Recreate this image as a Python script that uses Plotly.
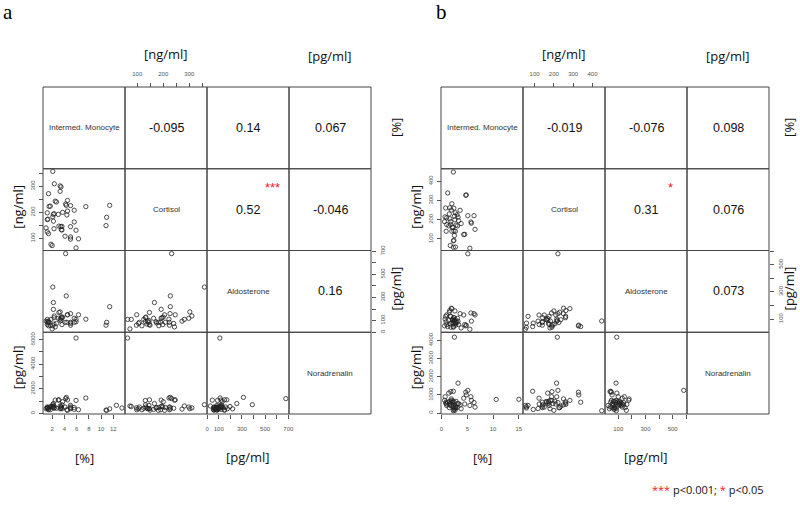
import plotly.graph_objects as go

NAN = float("nan")

# ---------------- data ----------------
var_names = ["Intermed. Monocyte", "Cortisol", "Aldosterone", "Noradrenalin"]

# panel a: intermediate monocytes [%], cortisol [ng/ml], aldosterone [pg/ml], noradrenalin [pg/ml]
a_mono = [2.1, 2.35, 3.3, 3.45, 3.3, 1.4, 2.5, 2.7, 4.5, 1.5, 1.7, 4.2, 4.3, 5.0, 7.5, 11.4, 5.6,
          1.2, 2.3, 2.2, 3.0, 3.7, 4.5, 4.4, 2.1, 10.9, 1.2, 1.3, 2.2, 5.6, 3.1, 3.4, 3.6, 5.0,
          10.8, 2.3, 3.5, 3.6, 5.9, 1.0, 1.2, 1.4, 4.1, 5.0, 5.0, 6.3, 1.8, 5.9, 2.0, 12.5, 13.4]
a_cort = [358, 310, 302, 298, 281, 272, 243, 240, 246, 223, 224, 232, 227, 226, 222, 227, 208,
          198, 195, 192, 192, 200, 205, 190, 183, 181, 172, 174, 166, 163, 147, 145, 146, 145,
          149, 137, 133, 132, 131, 140, 125, 118, 108, 105, 97, 98, 77, 63, 72, NAN, NAN]
a_aldo = [390, 140, 175, 120, 110, 95, 45, 75, 150, 85, 60, 679, 313, 160, 112, 220, 85,
          65, 125, 197, 120, 130, 150, 85, 55, 85, 90, 80, 256, 120, 170, 100, 65, 85,
          60, 70, 130, 125, 90, 95, 110, 55, 85, 75, 60, 150, 110, 110, 28, NAN, NAN]
a_nora = [710, 450, 380, 520, 600, 350, 1080, 420, 1100, 500, 300, 1200, 1300, 520, 1250, 370, 480,
          520, 600, 560, 1080, 950, 250, 300, 480, 250, 450, 470, 800, 330, 1100, 400, 380, 650,
          270, 430, 520, 700, 1050, 380, 420, 300, 520, 380, 450, 300, 560, 6130, 600, 655, 440]
a_corr = ["-0.095", "0.14", "0.067", "0.52", "-0.046", "0.16"]
a_stars = ["", "", "", "***", "", ""]

# panel b
b_mono = [2.3, 1.2, 4.7, 4.8, 0.8, 1.6, 2.4, 2.0, 3.6, 2.7, 3.0, 0.7, 1.0, 1.6, 2.5, 5.1, 6.3,
          5.7, 5.8, 1.0, 1.4, 1.8, 2.8, 3.1, 2.1, 2.2, 2.0, 2.4, 2.7, 0.9, 4.3, 4.5, 2.5, 2.4,
          2.3, 1.7, 2.3, 2.7, 3.2, 5.5, 1.8, 1.5, 3.3, 1.9, 6.5, 2.6, 0.6, 3.8, 10.6, 15.0]
b_cort = [448, 339, 327, 329, 261, 262, 260, 283, 249, 236, 226, 215, 210, 205, 218, 221, 221,
          188, 182, 175, 168, 175, 172, 168, 162, 160, 140, 142, 140, 140, 123, 124, 118, 93,
          90, 66, 57, 58, 214, 52, 190, 230, 195, 250, 150, 200, 190, 180, NAN, NAN]
b_aldo = [86, 45, 50, 55, 120, 163, 110, 177, 140, 95, 75, 100, 130, 65, 89, 581, 140,
          145, 85, 60, 90, 120, 70, 105, 95, 100, 75, 110, 55, 80, 130, 60, 85, 70,
          45, 120, 40, 70, 84, 25, 40, 150, 60, 180, 130, 160, 50, 35, NAN, NAN]
b_nora = [130, 600, 1150, 1000, 550, 480, 620, 700, 450, 380, 300, 900, 500, 650, 4180, 1250, 580,
          900, 700, 420, 1100, 560, 650, 520, 600, 640, 380, 460, 300, 600, 820, 500, 250, 200,
          1200, 420, 350, 280, 1650, 420, 1180, 300, 520, 780, 330, 150, 700, 240, 750, 760]
b_corr = ["-0.019", "-0.076", "0.098", "0.31", "0.076", "0.073"]
b_stars = ["", "", "", "*", "", ""]

# tick values / labels
a_tickvals = [[2, 4, 6, 8, 10, 12],
              [100, 150, 200, 250, 300, 350],
              [0, 100, 200, 300, 400, 500, 600, 700],
              [0, 1000, 2000, 3000, 4000, 5000, 6000]]
a_ticktext = [["2", "4", "6", "8", "10", "12"],
              ["100", "", "200", "", "300", ""],
              ["0", "100", "", "300", "", "500", "", "700"],
              ["0", "", "2000", "", "4000", "", "6000"]]
b_tickvals = [[0, 5, 10, 15],
              [100, 200, 300, 400],
              [100, 200, 300, 400, 500, 600],
              [0, 1000, 2000, 3000, 4000]]
b_ticktext = [["0", "5", "10", "15"],
              ["100", "200", "300", "400"],
              ["100", "", "300", "", "500", ""],
              ["0", "1000", "2000", "3000", "4000"]]
units = ["[%]", "[ng/ml]", "[pg/ml]", "[pg/ml]"]

# ---------------- layout geometry ----------------
W, H = 800, 523
TOP, CW, CH = 87.0, 82.0, 81.75
a_ranges = [[0.5, 13.9], [53, 368], [-1, 706], [-50, 6600]]
b_ranges = [[-0.1, 15.8], [40, 465], [3, 605], [-50, 4450]]

panels = [
    dict(data=[a_mono, a_cort, a_aldo, a_nora], ranges=a_ranges, tv=a_tickvals, tt=a_ticktext,
         corr=a_corr, stars=a_stars, left=43.0, label="a", lab_x=8.0, rgap=25),
    dict(data=[b_mono, b_cort, b_aldo, b_nora], ranges=b_ranges, tv=b_tickvals, tt=b_ticktext,
         corr=b_corr, stars=b_stars, left=441.0, label="b", lab_x=441.0, rgap=20),
]


def px(xp):
    return xp / W


def py(yp):
    return 1 - yp / H


def axname(kind, n):
    return kind if n == 1 else f"{kind}{n}"


def lkey(kind, n):
    return f"{kind}axis" if n == 1 else f"{kind}axis{n}"


fig = go.Figure()
annotations = []
shapes = []
layout_axes = {}
TICKFONT = dict(family="Liberation Sans, Arial, sans-serif", size=6, color="#555")
LINE = "#454545"


def ann(x, y, text, font, angle=0, xanchor="center", yanchor="middle"):
    annotations.append(dict(x=px(x), y=py(y), xref="paper", yref="paper", text=text,
                            showarrow=False, font=font, textangle=angle,
                            xanchor=xanchor, yanchor=yanchor))


for p, P in enumerate(panels):
    k = p * 4
    left = P["left"]
    bottom_px = TOP + 4 * CH
    for j in range(4):
        n = k + j + 1
        bottom = j in (0, 2)
        layout_axes[lkey("x", n)] = dict(
            domain=[px(left + j * CW), px(left + (j + 1) * CW)],
            range=P["ranges"][j], autorange=False,
            anchor="free", position=py(bottom_px) if bottom else py(TOP),
            side="bottom" if bottom else "top",
            showgrid=False, zeroline=False, showline=False,
            ticks="outside", ticklen=4, tickwidth=0.8, tickcolor="#555",
            tickvals=P["tv"][j], ticktext=P["tt"][j], tickfont=TICKFONT,
            ticklabelstandoff=5,
        )
    for i in range(4):
        n = k + i + 1
        leftside = i in (1, 3)
        y_top = TOP + i * CH
        layout_axes[lkey("y", n)] = dict(
            domain=[py(y_top + CH), py(y_top)],
            range=P["ranges"][i], autorange=False,
            anchor="free", position=px(left) if leftside else px(left + 4 * CW),
            side="left" if leftside else "right",
            showgrid=False, zeroline=False, showline=False,
            ticks="outside", ticklen=4, tickwidth=0.8, tickcolor="#555",
            tickvals=P["tv"][i], ticktext=P["tt"][i], tickfont=TICKFONT,
            tickangle=-90, ticklabelstandoff=2,
        )
    # scatter panels
    for i in range(4):
        for j in range(4):
            if i > j:
                fig.add_trace(go.Scatter(
                    x=P["data"][j], y=P["data"][i], mode="markers",
                    xaxis=axname("x", k + j + 1), yaxis=axname("y", k + i + 1),
                    marker=dict(symbol="circle-open", size=4.3, color="#222",
                                line=dict(width=0.8)),
                    hoverinfo="skip", showlegend=False))
    # cell borders
    for i in range(4):
        for j in range(4):
            shapes.append(dict(type="rect", xref="paper", yref="paper",
                               x0=px(left + j * CW), x1=px(left + (j + 1) * CW),
                               y0=py(TOP + (i + 1) * CH), y1=py(TOP + i * CH),
                               line=dict(color=LINE, width=1), layer="above"))
    # diagonal labels
    for d in range(4):
        ann(left + (d + 0.5) * CW, TOP + (d + 0.5) * CH, var_names[d],
            dict(family="Liberation Sans, Arial", size=8, color="#333"))
    # correlations
    idx = 0
    for i in range(4):
        for j in range(4):
            if j > i:
                cx, cy = left + (j + 0.5) * CW, TOP + (i + 0.5) * CH
                ann(cx, cy, P["corr"][idx],
                    dict(family="Liberation Sans, Arial", size=12.5, color="#111"))
                if P["stars"][idx]:
                    ann(cx + 24, cy - 22, P["stars"][idx],
                        dict(family="Liberation Sans, Arial", size=13, color="#e8202a"))
                idx += 1
    # unit titles
    TF = dict(family="Open Sans, sans-serif", size=13, color="#111")
    rg = P["rgap"]
    ann(left + 1.5 * CW, 54, units[1], TF)
    ann(left + 3.5 * CW, 56, units[3], TF)
    ann(left + 0.5 * CW, 458, units[0], TF)
    ann(left + 2.5 * CW, 457, units[2], TF)
    ann(left - 25, TOP + 1.5 * CH - 3, units[1], TF, angle=-90)
    ann(left - 25, TOP + 3.5 * CH - 6, units[3], TF, angle=-90)
    ann(left + 4 * CW + rg, TOP + 0.5 * CH, units[0], TF, angle=-90)
    ann(left + 4 * CW + rg, TOP + 2.5 * CH - 3, units[2], TF, angle=-90)
    ann(P["lab_x"], 12, P["label"],
        dict(family="Liberation Serif, Times New Roman, serif", size=21, color="#000"))

ann(766, 489, '<span style="color:#e8202a">***</span> p&lt;0.001; '
              '<span style="color:#e8202a">*</span> p&lt;0.05',
    dict(family="Open Sans, sans-serif", size=11, color="#111"), xanchor="right")

fig.update_layout(
    width=W, height=H, margin=dict(l=0, r=0, t=0, b=0, autoexpand=False),
    paper_bgcolor="white", plot_bgcolor="white", showlegend=False,
    annotations=annotations, shapes=shapes, **layout_axes)

fig.write_html("out.html", config={"displayModeBar": False},
               post_script="document.body.style.margin='0';document.body.style.padding='0';")
